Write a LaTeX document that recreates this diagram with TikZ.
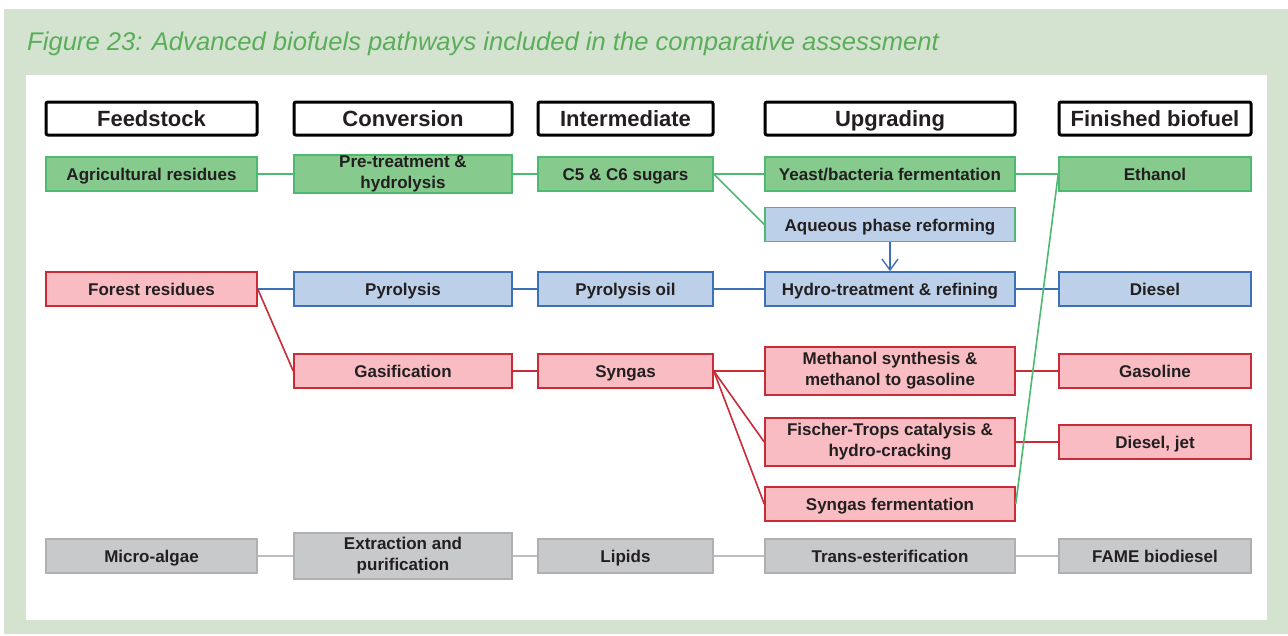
\documentclass[tikz,border=0pt]{standalone}
\usepackage{fontspec}
\setmainfont{Liberation Sans}
\usepackage{xcolor}
\usepackage{tikz}
\usetikzlibrary{arrows.meta}
\definecolor{framegreen}{RGB}{212,227,207}
\definecolor{titlegreen}{RGB}{90,174,90}
\definecolor{txtdark}{RGB}{35,31,32}
\definecolor{grnfill}{RGB}{134,202,141}
\definecolor{grnline}{RGB}{76,186,112}
\definecolor{redfill}{RGB}{248,188,194}
\definecolor{redline}{RGB}{200,44,54}
\definecolor{bluefill}{RGB}{188,208,234}
\definecolor{blueline}{RGB}{62,112,182}
\definecolor{greyfill}{RGB}{200,201,203}
\definecolor{greyline}{RGB}{176,176,178}
\definecolor{greyedge}{RGB}{190,190,192}
\tikzset{
    tnode/.style = {align=center, inner sep=0pt, text centered, text=txtdark},
    box/.style = {tnode, rectangle, line width=1.5pt, minimum height=34pt, text height=14pt, text depth=1pt, font=\fontsize{17}{21}\selectfont\bfseries},
    two_line/.style = {text height={}, text depth={}},
    head_node/.style = {tnode, rectangle, rounded corners=2pt, draw=black, line width=3pt, fill=white, minimum height=33pt, text height=17pt, text depth=2pt, font=\fontsize{22}{24}\selectfont\bfseries},
    green_node/.style = {box, draw=grnline, fill=grnfill},
    red_node/.style = {box, draw=redline, fill=redfill},
    blue_node/.style = {box, draw=blueline, fill=bluefill},
    grey_node/.style = {box, draw=greyline, fill=greyfill},
    feed/.style = {minimum width=211pt},
    conv/.style = {minimum width=218pt},
    inter/.style = {minimum width=175pt},
    upgr/.style = {minimum width=250pt},
    fuel/.style = {minimum width=192pt},
    green_edge/.style = {draw=grnline, line width=1.6pt},
    red_edge/.style = {draw=redline, line width=1.6pt},
    blue_edge/.style = {draw=blueline, line width=1.6pt},
    grey_edge/.style = {draw=greyedge, line width=1.6pt}
}

\begin{document}
\begin{tikzpicture}[x=1pt, y=-1pt]
    \useasboundingbox (0,0) rectangle (1288,635);
    \fill[white] (0,0) rectangle (1288,635);
    \fill[framegreen] (4,9) rectangle (1288,634);
    \fill[white] (26,75) rectangle (1267,620);

    \node [tnode, anchor=west, text=titlegreen, font=\fontsize{25.6}{30}\selectfont\itshape] (title) at (27,44)
        {Figure 23: Advanced biofuels pathways included in the comparative assessment};

    % column heads
    \node [head_node, feed] (h_feed)  at (151.5,118.5) {Feedstock};
    \node [head_node, conv] (h_conv)  at (403,118.5)   {Conversion};
    \node [head_node, inter] (h_inter) at (625.5,118.5) {Intermediate};
    \node [head_node, upgr] (h_upgr)  at (890,118.5)   {Upgrading};
    \node [head_node, fuel] (h_fuel)  at (1155,118.5)  {Finished biofuel};

    % sugar route
    \node [green_node, feed] (agri)     at (151.5,174) {Agricultural residues};
    \node [green_node, conv, two_line, minimum height=38pt] (pretreat) at (403,174) {Pre-treatment \&\\hydrolysis};
    \node [green_node, inter] (sugars)  at (625.5,174) {C5 \& C6 sugars};
    \node [green_node, upgr] (ferment)  at (890,174)   {Yeast/bacteria fermentation};
    \node [green_node, fuel] (ethanol)  at (1155,174)  {Ethanol};
    \node [box, draw=grnline, fill=bluefill, upgr] (aqueous) at (890,224.5) {Aqueous phase reforming};

    % pyrolysis route
    \node [red_node, feed] (forest)     at (151.5,289) {Forest residues};
    \node [blue_node, conv] (pyro)      at (403,289)   {Pyrolysis};
    \node [blue_node, inter] (pyrooil)  at (625.5,289) {Pyrolysis oil};
    \node [blue_node, upgr] (hydro)     at (890,289)   {Hydro-treatment \& refining};
    \node [blue_node, fuel] (diesel)    at (1155,289)  {Diesel};

    % gasification route
    \node [red_node, conv] (gasif)      at (403,371)   {Gasification};
    \node [red_node, inter] (syngas)    at (625.5,371) {Syngas};
    \node [red_node, upgr, two_line, minimum height=48pt] (methanol) at (890,371) {Methanol synthesis \&\\methanol to gasoline};
    \node [red_node, fuel] (gasoline)   at (1155,371)  {Gasoline};
    \node [red_node, upgr, two_line, minimum height=48pt] (ftrops) at (890,442) {Fischer-Trops catalysis \&\\hydro-cracking};
    \node [red_node, fuel] (dieseljet)  at (1155,442)  {Diesel, jet};
    \node [red_node, upgr] (synferm)    at (890,504)   {Syngas fermentation};

    % algae route
    \node [grey_node, feed] (algae)     at (151.5,556) {Micro-algae};
    \node [grey_node, conv, two_line, minimum height=46pt] (extract) at (403,556) {Extraction and\\purification};
    \node [grey_node, inter] (lipids)   at (625.5,556) {Lipids};
    \node [grey_node, upgr] (trans)     at (890,556)   {Trans-esterification};
    \node [grey_node, fuel] (fame)      at (1155,556)  {FAME biodiesel};

    % connectors
    \draw [green_edge] (agri) -- (pretreat);
    \draw [green_edge] (pretreat) -- (sugars);
    \draw [green_edge] (sugars) -- (ferment);
    \draw [green_edge] (ferment) -- (ethanol);
    \draw [green_edge] (sugars.east) -- (aqueous.west);
    \draw [blue_edge, -{Straight Barb[length=11pt, width=16pt, line width=1.4pt]}] (aqueous) -- (hydro);

    \draw [blue_edge] (forest) -- (pyro);
    \draw [blue_edge] (pyro) -- (pyrooil);
    \draw [blue_edge] (pyrooil) -- (hydro);
    \draw [blue_edge] (hydro) -- (diesel);

    \draw [red_edge] (forest.east) -- (gasif.west);
    \draw [red_edge] (gasif) -- (syngas);
    \draw [red_edge] (syngas.east) -- (methanol.west);
    \draw [red_edge] (syngas.east) -- (ftrops.west);
    \draw [red_edge] (syngas.east) -- (synferm.west);
    \draw [red_edge] (methanol) -- (gasoline);
    \draw [red_edge] (ftrops) -- (dieseljet);
    \draw [green_edge] (synferm.east) -- (ethanol.west);

    \draw [grey_edge] (algae) -- (extract);
    \draw [grey_edge] (extract) -- (lipids);
    \draw [grey_edge] (lipids) -- (trans);
    \draw [grey_edge] (trans) -- (fame);
\end{tikzpicture}
\end{document}
